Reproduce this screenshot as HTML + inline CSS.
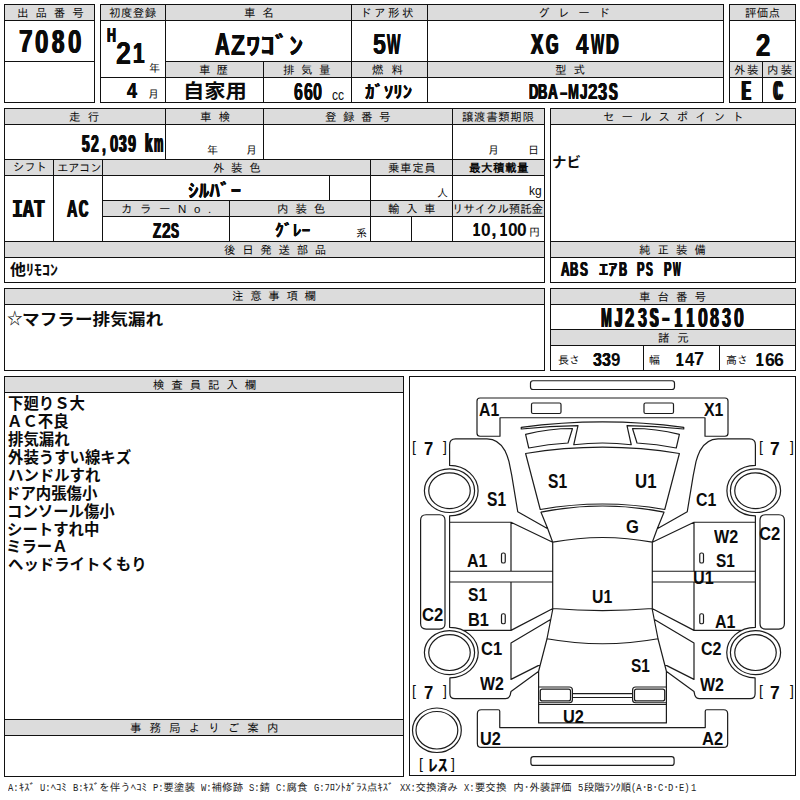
<!DOCTYPE html>
<html lang="ja"><head><meta charset="utf-8"><title>出品票</title>
<style>
html,body{margin:0;padding:0;background:#fff}
#p{position:relative;width:800px;height:800px;overflow:hidden;background:#fff;color:#0b0b0b;font-family:"Liberation Sans","Noto Sans CJK JP",sans-serif}
.b{position:absolute;box-sizing:border-box;border:1px solid #111}
.l{position:absolute;background:#111}
.g{position:absolute;background:#dcdcdc}
.t{position:absolute;white-space:pre;line-height:1;transform-origin:0 0}
.w{position:absolute;left:0;top:0;width:0;height:0}
.nb{font-weight:700;font-family:"Liberation Sans","Noto Sans CJK JP",sans-serif;color:#0b0b0b}
svg{position:absolute;left:0;top:0}
.lg{top:782.6px;font:400 10.6px/1 "Liberation Mono","IPAGothic",monospace;color:#222}
</style></head><body><div id="p">
<div class="g" style="left:5px;top:5px;width:89px;height:15px"></div>
<div class="g" style="left:101px;top:5px;width:622px;height:15px"></div>
<div class="g" style="left:730px;top:5px;width:65px;height:15px"></div>
<div class="g" style="left:166px;top:62px;width:557px;height:15px"></div>
<div class="g" style="left:730px;top:62px;width:65px;height:15px"></div>
<div class="b" style="left:4px;top:4px;width:91px;height:99px"></div>
<div class="l" style="left:4px;top:20px;width:91px;height:1px"></div>
<div class="l" style="left:4px;top:61px;width:91px;height:1px"></div>
<div class="b" style="left:100px;top:4px;width:624px;height:99px"></div>
<div class="l" style="left:100px;top:20px;width:624px;height:1px"></div>
<div class="l" style="left:165px;top:4px;width:1px;height:99px"></div>
<div class="l" style="left:351px;top:4px;width:1px;height:99px"></div>
<div class="l" style="left:427px;top:4px;width:1px;height:99px"></div>
<div class="l" style="left:263px;top:61px;width:1px;height:42px"></div>
<div class="l" style="left:165px;top:61px;width:559px;height:1px"></div>
<div class="l" style="left:100px;top:77px;width:624px;height:1px"></div>
<div class="b" style="left:729px;top:4px;width:67px;height:99px"></div>
<div class="l" style="left:729px;top:20px;width:67px;height:1px"></div>
<div class="l" style="left:729px;top:61px;width:67px;height:1px"></div>
<div class="l" style="left:729px;top:77px;width:67px;height:1px"></div>
<div class="l" style="left:762px;top:61px;width:1px;height:42px"></div>
<div class="g" style="left:5px;top:109px;width:539px;height:15px"></div>
<div class="g" style="left:5px;top:160px;width:539px;height:15px"></div>
<div class="g" style="left:103px;top:201px;width:441px;height:15px"></div>
<div class="g" style="left:5px;top:242px;width:539px;height:15px"></div>
<div class="g" style="left:551px;top:109px;width:244px;height:15px"></div>
<div class="g" style="left:551px;top:242px;width:244px;height:15px"></div>
<div class="b" style="left:4px;top:108px;width:541px;height:175px"></div>
<div class="l" style="left:4px;top:124px;width:541px;height:1px"></div>
<div class="l" style="left:4px;top:159px;width:541px;height:1px"></div>
<div class="l" style="left:4px;top:175px;width:541px;height:1px"></div>
<div class="l" style="left:102px;top:200px;width:443px;height:1px"></div>
<div class="l" style="left:102px;top:216px;width:443px;height:1px"></div>
<div class="l" style="left:4px;top:241px;width:541px;height:1px"></div>
<div class="l" style="left:4px;top:257px;width:541px;height:1px"></div>
<div class="l" style="left:165px;top:108px;width:1px;height:52px"></div>
<div class="l" style="left:263px;top:108px;width:1px;height:52px"></div>
<div class="l" style="left:452px;top:108px;width:1px;height:134px"></div>
<div class="l" style="left:53px;top:159px;width:1px;height:83px"></div>
<div class="l" style="left:102px;top:159px;width:1px;height:83px"></div>
<div class="l" style="left:370px;top:159px;width:1px;height:83px"></div>
<div class="l" style="left:329px;top:175px;width:1px;height:26px"></div>
<div class="l" style="left:229px;top:200px;width:1px;height:42px"></div>
<div class="l" style="left:411px;top:216px;width:1px;height:26px"></div>
<div class="b" style="left:550px;top:108px;width:246px;height:175px"></div>
<div class="l" style="left:550px;top:124px;width:246px;height:1px"></div>
<div class="l" style="left:550px;top:241px;width:246px;height:1px"></div>
<div class="l" style="left:550px;top:257px;width:246px;height:1px"></div>
<div class="g" style="left:5px;top:289px;width:539px;height:15px"></div>
<div class="g" style="left:551px;top:289px;width:244px;height:15px"></div>
<div class="g" style="left:551px;top:330px;width:244px;height:15px"></div>
<div class="b" style="left:4px;top:288px;width:541px;height:83px"></div>
<div class="l" style="left:4px;top:304px;width:541px;height:1px"></div>
<div class="b" style="left:550px;top:288px;width:246px;height:83px"></div>
<div class="l" style="left:550px;top:304px;width:246px;height:1px"></div>
<div class="l" style="left:550px;top:329px;width:246px;height:1px"></div>
<div class="l" style="left:550px;top:345px;width:246px;height:1px"></div>
<div class="l" style="left:643px;top:345px;width:1px;height:26px"></div>
<div class="l" style="left:719px;top:345px;width:1px;height:26px"></div>
<div class="g" style="left:5px;top:377px;width:398px;height:15px"></div>
<div class="g" style="left:5px;top:720px;width:398px;height:15px"></div>
<div class="b" style="left:4px;top:376px;width:400px;height:401px"></div>
<div class="l" style="left:4px;top:392px;width:400px;height:1px"></div>
<div class="l" style="left:4px;top:719px;width:400px;height:1px"></div>
<div class="l" style="left:4px;top:735px;width:400px;height:1px"></div>
<div class="b" style="left:409px;top:376px;width:387px;height:400px"></div>
<svg width="800" height="800" viewBox="0 0 800 800" fill="none" stroke="#1c1c1c" stroke-width="1.2" stroke-linejoin="round"><path d="M 533.0,380.75 H 672.0 Q 674.5,380.75 674.5,383.25 V 387.0 Q 674.5,389.5 672.0,389.5 H 533.0 Q 530.5,389.5 530.5,387.0 V 383.25 Q 530.5,380.75 533.0,380.75 Z M 533.4,756.65 H 671.6 Q 674.1,756.65 674.1,759.15 V 762.9 Q 674.1,765.4 671.6,765.4 H 533.4 Q 530.9,765.4 530.9,762.9 V 759.15 Q 530.9,756.65 533.4,756.65 Z M 480,398 H 725 Q 728,398 728,401 V 433.25 Q 728,436.25 725,436.25 H 705 V 417.75 H 500 V 436.25 H 480 Q 477,436.25 477,433.25 V 401 Q 477,398 480,398 Z M 521.25,427.3 Q 602.5,416.3 683.75,427.3 L 683.75,429 Q 655,426 627,425.6 L 631.25,444.75 Q 602.5,441.25 573.75,444.75 L 578,425.6 Q 550,426 521.25,429 Z M 525.6,453.5 Q 602.5,440.9 679.4,453.5 L 664.75,509.5 Q 602.5,498.5 540.25,509.5 Z M 541,512.2 Q 602.5,499.8 664,512.2 L 657.25,528.7 L 652.3,542.2 Q 602.5,532.8 552.7,542.2 L 547.75,528.7 Z M 552.7,542.2 V 608.5 Q 602.5,612.7 652.3,608.5 V 542.2 M 552.9,608.5 L 547,638.75 L 538.6,671.25 V 722.9 H 666.4 V 671.25 L 658,638.75 L 652.1,608.5 M 547,638.75 Q 602.5,648.75 658,638.75 M 538.6,704.5 H 666.4 M 572.4,693.65 H 632.6 M 572.4,697.5 H 632.6 M 481.35,709.75 H 498.25 Q 499.75,709.75 499.75,711.25 V 727.6 H 705.25 V 711.25 Q 705.25,709.75 706.75,709.75 H 723.65 Q 727.65,709.75 727.65,713.75 V 743.4 Q 727.65,747.4 723.65,747.4 H 481.35 Q 477.35,747.4 477.35,743.4 V 713.75 Q 477.35,709.75 481.35,709.75 Z M 533.0,403 H 559.5 Q 561,403 561,404.5 V 412.0 Q 561,413.5 559.5,413.5 H 533.0 Q 531.5,413.5 531.5,412.0 V 404.5 Q 531.5,403 533.0,403 Z M 525.6,434.4 Q 549,428.5 572.5,428.5 L 568,443 Q 548.4,443.9 528.75,448 Z M 547.75,528.7 L 517.75,511.75 L 511.75,475.4 L 509,461.6 C 508.3,459 507,455 504.9,450.6 C 501,443.5 495,439 487,438.9 H 455.6 Q 449.6,438.9 449.6,444.9 V 465.45 A 28.5 25.25 0 0 1 449.6,515.95 V 627.35 A 28.5 25.25 0 0 1 449.9,677.85 V 693.7 Q 449.9,698.7 454.9,698.7 H 505.5 Q 509,698.7 510.2,695 L 511,691.5 L 538.75,671.25 M 449.6,522.25 H 511 L 552.7,542.2 M 511,522.25 V 571.25 M 449.6,571.25 H 552.7 M 449.6,582 H 552.7 M 511,582 V 630.35 M 463,630.35 H 511 L 552.9,608.5 M 503.1,553 H 503.65 Q 505.25,553 505.25,554.6 V 561.4 Q 505.25,563 503.65,563 H 503.1 Q 501.5,563 501.5,561.4 V 554.6 Q 501.5,553 503.1,553 Z M 503.1,613.75 H 503.65 Q 505.25,613.75 505.25,615.35 V 622.15 Q 505.25,623.75 503.65,623.75 H 503.1 Q 501.5,623.75 501.5,622.15 V 615.35 Q 501.5,613.75 503.1,613.75 Z M 550.6,619.4 L 511,643 V 679.4 L 540.7,664.4 M 538.6,687 H 569.4 Q 572.4,687 572.4,690 V 699.75 Q 572.4,702.75 569.4,702.75 H 538.6 M 542.3,689.1 H 568.5 Q 570.5,689.1 570.5,691.1 V 698.9 Q 570.5,700.9 568.5,700.9 H 542.3 Q 540.3,700.9 540.3,698.9 V 691.1 Q 540.3,689.1 542.3,689.1 Z M 426.1,514.75 H 439.5 Q 445,514.75 445,520.25 V 623.6 Q 445,629.1 439.5,629.1 H 426.1 Q 420.6,629.1 420.6,623.6 V 520.25 Q 420.6,514.75 426.1,514.75 Z M 672 403 H 645.5 Q 644 403 644 404.5 V 412.0 Q 644 413.5 645.5 413.5 H 672 Q 673.5 413.5 673.5 412 V 404.5 Q 673.5 403 672 403 Z M 679.4 434.4 Q 656 428.5 632.5 428.5 L 637 443 Q 656.6 443.9 676.25 448 Z M 657.25 528.7 L 687.25 511.75 L 693.25 475.4 L 696 461.6 C 696.7 459 698 455 700.1 450.6 C 704 443.5 710 439 718 438.9 H 749.4 Q 755.4 438.9 755.4 444.9 V 465.45 A 28.5 25.25 0 0 0 755.4 515.95 V 627.35 A 28.5 25.25 0 0 0 755.1 677.85 V 693.7 Q 755.1 698.7 750.1 698.7 H 699.5 Q 696 698.7 694.8 695 L 694 691.5 L 666.25 671.25 M 755.4 522.25 H 694 L 652.3 542.2 M 694 522.25 V 571.25 M 755.4 571.25 H 652.3 M 755.4 582 H 652.3 M 694 582 V 630.35 M 742 630.35 H 694 L 652.1 608.5 M 701.9 553 H 701.35 Q 699.75 553 699.75 554.6 V 561.4 Q 699.75 563 701.35 563 H 701.9 Q 703.5 563 703.5 561.4 V 554.6 Q 703.5 553 701.9 553 Z M 701.9 613.75 H 701.35 Q 699.75 613.75 699.75 615.35 V 622.15 Q 699.75 623.75 701.35 623.75 H 701.9 Q 703.5 623.75 703.5 622.15 V 615.35 Q 703.5 613.75 701.9 613.75 Z M 654.4 619.4 L 694 643 V 679.4 L 664.3 664.4 M 666.4 687 H 635.6 Q 632.6 687 632.6 690 V 699.75 Q 632.6 702.75 635.6 702.75 H 666.4 M 662.7 689.1 H 636.5 Q 634.5 689.1 634.5 691.1 V 698.9 Q 634.5 700.9 636.5 700.9 H 662.7 Q 664.7 700.9 664.7 698.9 V 691.1 Q 664.7 689.1 662.7 689.1 Z M 778.9 514.75 H 765.5 Q 760 514.75 760 520.25 V 623.6 Q 760 629.1 765.5 629.1 H 778.9 Q 784.4 629.1 784.4 623.6 V 520.25 Q 784.4 514.75 778.9 514.75 Z"/><ellipse cx="449.5" cy="490.7" rx="25.1" ry="21.8"/><ellipse cx="755.5" cy="490.7" rx="25.1" ry="21.8"/><ellipse cx="449.5" cy="490.7" rx="20.75" ry="17.9"/><ellipse cx="755.5" cy="490.7" rx="20.75" ry="17.9"/><ellipse cx="449.5" cy="652.6" rx="25.1" ry="22"/><ellipse cx="755.5" cy="652.6" rx="25.1" ry="22"/><ellipse cx="449.5" cy="652.6" rx="20.75" ry="17.9"/><ellipse cx="755.5" cy="652.6" rx="20.75" ry="17.9"/><ellipse cx="436.9" cy="730.25" rx="24.4" ry="22.25"/><ellipse cx="436.9" cy="730.25" rx="20.9" ry="18.75"/></svg>
<div class="w"><span class="t" style="left:19px;top:25px;font:700 32.11px/1 'Liberation Sans','Noto Sans CJK JP',sans-serif;transform:scaleX(0.762);text-shadow:0.59px 0 0 currentColor,-0.59px 0 0 currentColor">7</span><span class="t" style="left:35px;top:26px;font:700 32.96px/1 'Liberation Sans','Noto Sans CJK JP',sans-serif;transform:scaleX(0.732);text-shadow:0.73px 0 0 currentColor,-0.73px 0 0 currentColor">0</span><span class="t" style="left:52px;top:26px;font:700 32.96px/1 'Liberation Sans','Noto Sans CJK JP',sans-serif;transform:scaleX(0.671);text-shadow:1.02px 0 0 currentColor,-1.02px 0 0 currentColor">8</span><span class="t" style="left:68px;top:26px;font:700 32.96px/1 'Liberation Sans','Noto Sans CJK JP',sans-serif;transform:scaleX(0.732);text-shadow:0.73px 0 0 currentColor,-0.73px 0 0 currentColor">0</span></div>
<div class="w"><span class="t" style="left:107px;top:25px;font:700 20.80px/1 'Liberation Sans','Noto Sans CJK JP',sans-serif;transform:scaleX(0.594);text-shadow:0.72px 0 0 currentColor,-0.72px 0 0 currentColor">H</span><span class="t" style="left:116px;top:38px;font:700 30.99px/1 'Liberation Sans','Noto Sans CJK JP',sans-serif;transform:scaleX(0.868);text-shadow:0.13px 0 0 currentColor,-0.13px 0 0 currentColor">2</span><span class="t" style="left:133px;top:38px;font:700 30.15px/1 'Liberation Sans','Noto Sans CJK JP',sans-serif;transform:scaleX(0.687);text-shadow:0.75px 0 0 currentColor,-0.75px 0 0 currentColor">1</span></div>
<div class="w"><span class="t" style="left:127px;top:79px;font:700 22.93px/1 'Liberation Sans','Noto Sans CJK JP',sans-serif;transform:scaleX(0.782);text-shadow:0.21px 0 0 currentColor,-0.21px 0 0 currentColor">4</span></div>
<div class="w"><span class="t" style="left:215px;top:29px;font:700 31.32px/1 'Liberation Sans','Noto Sans CJK JP',sans-serif;transform:scaleX(0.649);text-shadow:0.96px 0 0 currentColor,-0.96px 0 0 currentColor">A</span><span class="t" style="left:231px;top:30px;font:700 29.98px/1 'Liberation Sans','Noto Sans CJK JP',sans-serif;transform:scaleX(0.767);text-shadow:0.43px 0 0 currentColor,-0.43px 0 0 currentColor">Z</span><span class="t" style="left:246px;top:34px;font:700 23.82px/1 'Liberation Sans','Noto Sans CJK JP',sans-serif;transform:scaleX(1.204);text-shadow:0.08px 0 0 currentColor,-0.08px 0 0 currentColor">ﾜｺﾞﾝ</span></div>
<div class="w"><span class="t" style="left:373px;top:29px;font:700 30.19px/1 'Liberation Sans','Noto Sans CJK JP',sans-serif;transform:scaleX(0.769);text-shadow:0.43px 0 0 currentColor,-0.43px 0 0 currentColor">5</span><span class="t" style="left:387px;top:29px;font:700 29.42px/1 'Liberation Sans','Noto Sans CJK JP',sans-serif;transform:scaleX(0.484);text-shadow:0.72px 0 0 currentColor,-0.72px 0 0 currentColor">W</span></div>
<div class="w"><span class="t" style="left:531px;top:29px;font:700 29.42px/1 'Liberation Sans','Noto Sans CJK JP',sans-serif;transform:scaleX(0.624);text-shadow:1.02px 0 0 currentColor,-1.02px 0 0 currentColor">X</span><span class="t" style="left:546px;top:30px;font:700 28.93px/1 'Liberation Sans','Noto Sans CJK JP',sans-serif;transform:scaleX(0.551);text-shadow:1.42px 0 0 currentColor,-1.42px 0 0 currentColor">G</span> <span class="t" style="left:576px;top:29px;font:700 29.42px/1 'Liberation Sans','Noto Sans CJK JP',sans-serif;transform:scaleX(0.763);text-shadow:0.44px 0 0 currentColor,-0.44px 0 0 currentColor">4</span><span class="t" style="left:591px;top:29px;font:700 29.42px/1 'Liberation Sans','Noto Sans CJK JP',sans-serif;transform:scaleX(0.476);text-shadow:0.78px 0 0 currentColor,-0.78px 0 0 currentColor">W</span><span class="t" style="left:606px;top:29px;font:700 29.42px/1 'Liberation Sans','Noto Sans CJK JP',sans-serif;transform:scaleX(0.597);text-shadow:1.16px 0 0 currentColor,-1.16px 0 0 currentColor">D</span></div>
<div class="w"><span class="t" style="left:756px;top:30px;font:700 31.76px/1 'Liberation Sans','Noto Sans CJK JP',sans-serif;transform:scaleX(0.809);text-shadow:0.51px 0 0 currentColor,-0.51px 0 0 currentColor">2</span></div>
<div class="t" style="left:183px;top:82px;font:700 19.22px/1 'Liberation Sans','Noto Sans CJK JP',sans-serif;transform:scaleX(1.108)">自家用</div>
<div class="w"><span class="t" style="left:294px;top:81px;font:700 23.53px/1 'Liberation Sans','Noto Sans CJK JP',sans-serif;transform:scaleX(0.679);text-shadow:0.50px 0 0 currentColor,-0.50px 0 0 currentColor">6</span><span class="t" style="left:304px;top:81px;font:700 23.53px/1 'Liberation Sans','Noto Sans CJK JP',sans-serif;transform:scaleX(0.679);text-shadow:0.50px 0 0 currentColor,-0.50px 0 0 currentColor">6</span><span class="t" style="left:313px;top:81px;font:700 23.53px/1 'Liberation Sans','Noto Sans CJK JP',sans-serif;transform:scaleX(0.689);text-shadow:0.44px 0 0 currentColor,-0.44px 0 0 currentColor">0</span></div>
<div class="t" style="left:365px;top:84px;font:700 17.03px/1 'Liberation Sans','Noto Sans CJK JP',sans-serif;transform:scaleX(1.109);text-shadow:0.14px 0 0 currentColor,-0.14px 0 0 currentColor">ｶﾞｿﾘﾝ</div>
<div class="w"><span class="t" style="left:529px;top:81px;font:700 22.45px/1 'Liberation Sans','Noto Sans CJK JP',sans-serif;transform:scaleX(0.574);text-shadow:0.99px 0 0 currentColor,-0.99px 0 0 currentColor">D</span><span class="t" style="left:538px;top:81px;font:700 22.45px/1 'Liberation Sans','Noto Sans CJK JP',sans-serif;transform:scaleX(0.574);text-shadow:0.99px 0 0 currentColor,-0.99px 0 0 currentColor">B</span><span class="t" style="left:548px;top:81px;font:700 21.80px/1 'Liberation Sans','Noto Sans CJK JP',sans-serif;transform:scaleX(0.621);text-shadow:0.77px 0 0 currentColor,-0.77px 0 0 currentColor">A</span><span class="t" style="left:559px;top:80px;font:700 22.90px/1 'Liberation Sans','Noto Sans CJK JP',sans-serif;transform:scaleX(1.222)">-</span><span class="t" style="left:568px;top:81px;font:700 22.45px/1 'Liberation Sans','Noto Sans CJK JP',sans-serif;transform:scaleX(0.584);text-shadow:0.37px 0 0 currentColor,-0.37px 0 0 currentColor">M</span><span class="t" style="left:580px;top:80px;font:700 22.87px/1 'Liberation Sans','Noto Sans CJK JP',sans-serif;transform:scaleX(0.584);text-shadow:0.96px 0 0 currentColor,-0.96px 0 0 currentColor">J</span><span class="t" style="left:588px;top:80px;font:700 22.87px/1 'Liberation Sans','Noto Sans CJK JP',sans-serif;transform:scaleX(0.752);text-shadow:0.37px 0 0 currentColor,-0.37px 0 0 currentColor">2</span><span class="t" style="left:598px;top:81px;font:700 23.53px/1 'Liberation Sans','Noto Sans CJK JP',sans-serif;transform:scaleX(0.700);text-shadow:0.54px 0 0 currentColor,-0.54px 0 0 currentColor">3</span><span class="t" style="left:609px;top:81px;font:700 23.53px/1 'Liberation Sans','Noto Sans CJK JP',sans-serif;transform:scaleX(0.547);text-shadow:1.17px 0 0 currentColor,-1.17px 0 0 currentColor">S</span></div>
<div class="w"><span class="t" style="left:742px;top:78px;font:700 26.81px/1 'Liberation Sans','Noto Sans CJK JP',sans-serif;transform:scaleX(0.478);text-shadow:2.79px 0 0 currentColor,-2.79px 0 0 currentColor">E</span></div>
<div class="w"><span class="t" style="left:774px;top:77px;font:700 27.46px/1 'Liberation Sans','Noto Sans CJK JP',sans-serif;transform:scaleX(0.412);text-shadow:3.64px 0 0 currentColor,-3.64px 0 0 currentColor">C</span></div>
<div class="w"><span class="t" style="left:82px;top:132px;font:700 24.15px/1 'Liberation Sans','Noto Sans CJK JP',sans-serif;transform:scaleX(0.562);text-shadow:1.13px 0 0 currentColor,-1.13px 0 0 currentColor">5</span><span class="t" style="left:91px;top:132px;font:700 24.15px/1 'Liberation Sans','Noto Sans CJK JP',sans-serif;transform:scaleX(0.578);text-shadow:1.05px 0 0 currentColor,-1.05px 0 0 currentColor">2</span><span class="t" style="left:102px;top:132px;font:700 24.15px/1 'Liberation Sans','Noto Sans CJK JP',sans-serif;transform:scaleX(0.578);text-shadow:0.68px 0 0 currentColor,-0.68px 0 0 currentColor">,</span><span class="t" style="left:110px;top:132px;font:700 24.15px/1 'Liberation Sans','Noto Sans CJK JP',sans-serif;transform:scaleX(0.613);text-shadow:0.88px 0 0 currentColor,-0.88px 0 0 currentColor">0</span><span class="t" style="left:119px;top:132px;font:700 24.15px/1 'Liberation Sans','Noto Sans CJK JP',sans-serif;transform:scaleX(0.562);text-shadow:1.13px 0 0 currentColor,-1.13px 0 0 currentColor">3</span><span class="t" style="left:128px;top:132px;font:700 24.15px/1 'Liberation Sans','Noto Sans CJK JP',sans-serif;transform:scaleX(0.595);text-shadow:0.97px 0 0 currentColor,-0.97px 0 0 currentColor">9</span> <span class="t" style="left:145px;top:131px;font:700 25.75px/1 'Liberation Sans','Noto Sans CJK JP',sans-serif;transform:scaleX(0.524);text-shadow:1.43px 0 0 currentColor,-1.43px 0 0 currentColor">k</span><span class="t" style="left:154px;top:131px;font:700 25.75px/1 'Liberation Sans','Noto Sans CJK JP',sans-serif;transform:scaleX(0.407);text-shadow:1.27px 0 0 currentColor,-1.27px 0 0 currentColor">m</span></div>
<div class="t" style="left:12px;top:198px;font:700 25.61px/1 'Liberation Mono',monospace;transform:scaleX(0.711);text-shadow:0.81px 0 0 currentColor,-0.81px 0 0 currentColor">IAT</div>
<div class="w"><span class="t" style="left:67px;top:197px;font:700 24.49px/1 'Liberation Sans','Noto Sans CJK JP',sans-serif;transform:scaleX(0.588);text-shadow:1.01px 0 0 currentColor,-1.01px 0 0 currentColor">A</span><span class="t" style="left:79px;top:197px;font:700 24.49px/1 'Liberation Sans','Noto Sans CJK JP',sans-serif;transform:scaleX(0.522);text-shadow:1.37px 0 0 currentColor,-1.37px 0 0 currentColor">C</span></div>
<div class="t" style="left:188px;top:182px;font:700 18.24px/1 'Liberation Sans','Noto Sans CJK JP',sans-serif;transform:scaleX(1.167);text-shadow:0.09px 0 0 currentColor,-0.09px 0 0 currentColor">ｼﾙﾊﾞｰ</div>
<div class="w"><span class="t" style="left:153px;top:220px;font:700 21.16px/1 'Liberation Sans','Noto Sans CJK JP',sans-serif;transform:scaleX(0.632);text-shadow:0.70px 0 0 currentColor,-0.70px 0 0 currentColor">Z</span><span class="t" style="left:162px;top:220px;font:700 21.16px/1 'Liberation Sans','Noto Sans CJK JP',sans-serif;transform:scaleX(0.741);text-shadow:0.37px 0 0 currentColor,-0.37px 0 0 currentColor">2</span><span class="t" style="left:171px;top:220px;font:700 21.16px/1 'Liberation Sans','Noto Sans CJK JP',sans-serif;transform:scaleX(0.563);text-shadow:0.98px 0 0 currentColor,-0.98px 0 0 currentColor">S</span></div>
<div class="t" style="left:275px;top:223px;font:700 15.91px/1 'Liberation Sans','Noto Sans CJK JP',sans-serif;transform:scaleX(1.113);text-shadow:0.13px 0 0 currentColor,-0.13px 0 0 currentColor">ｸﾞﾚｰ</div>
<div class="w"><span class="t" style="left:473px;top:221px;font:700 18.31px/1 'Liberation Sans','Noto Sans CJK JP',sans-serif;transform:scaleX(0.686);text-shadow:0.46px 0 0 currentColor,-0.46px 0 0 currentColor">1</span><span class="t" style="left:481px;top:221px;font:700 18.31px/1 'Liberation Sans','Noto Sans CJK JP',sans-serif;transform:scaleX(0.945)">0</span><span class="t" style="left:491px;top:221px;font:700 18.31px/1 'Liberation Sans','Noto Sans CJK JP',sans-serif;transform:scaleX(1.142)">,</span><span class="t" style="left:500px;top:221px;font:700 18.31px/1 'Liberation Sans','Noto Sans CJK JP',sans-serif;transform:scaleX(0.686);text-shadow:0.46px 0 0 currentColor,-0.46px 0 0 currentColor">1</span><span class="t" style="left:508px;top:221px;font:700 18.31px/1 'Liberation Sans','Noto Sans CJK JP',sans-serif;transform:scaleX(0.945)">0</span><span class="t" style="left:517px;top:221px;font:700 18.31px/1 'Liberation Sans','Noto Sans CJK JP',sans-serif;transform:scaleX(0.945)">0</span></div>
<div class="t" style="left:10px;top:262px;font:700 15.02px/1 'Liberation Sans','Noto Sans CJK JP',sans-serif;transform:scaleX(1.064)">他ﾘﾓｺﾝ</div>
<div class="t" style="left:552px;top:155px;font:700 14.13px/1 'Liberation Sans','Noto Sans CJK JP',sans-serif;transform:scaleX(1.023)">ナビ</div>
<div class="w"><span class="t" style="left:561px;top:259px;font:700 20.29px/1 'Liberation Sans','Noto Sans CJK JP',sans-serif;transform:scaleX(0.587);text-shadow:0.84px 0 0 currentColor,-0.84px 0 0 currentColor">A</span><span class="t" style="left:570px;top:259px;font:700 20.29px/1 'Liberation Sans','Noto Sans CJK JP',sans-serif;transform:scaleX(0.566);text-shadow:0.93px 0 0 currentColor,-0.93px 0 0 currentColor">B</span><span class="t" style="left:580px;top:259px;font:700 20.29px/1 'Liberation Sans','Noto Sans CJK JP',sans-serif;transform:scaleX(0.578);text-shadow:0.88px 0 0 currentColor,-0.88px 0 0 currentColor">S</span> <span class="t" style="left:599px;top:262px;font:700 16.01px/1 'Liberation Sans','Noto Sans CJK JP',sans-serif;transform:scaleX(1.142);text-shadow:0.11px 0 0 currentColor,-0.11px 0 0 currentColor">ｴｱ</span><span class="t" style="left:619px;top:259px;font:700 20.29px/1 'Liberation Sans','Noto Sans CJK JP',sans-serif;transform:scaleX(0.553);text-shadow:0.99px 0 0 currentColor,-0.99px 0 0 currentColor">B</span> <span class="t" style="left:637px;top:259px;font:700 20.29px/1 'Liberation Sans','Noto Sans CJK JP',sans-serif;transform:scaleX(0.547);text-shadow:1.01px 0 0 currentColor,-1.01px 0 0 currentColor">P</span><span class="t" style="left:646px;top:259px;font:700 20.29px/1 'Liberation Sans','Noto Sans CJK JP',sans-serif;transform:scaleX(0.499);text-shadow:1.25px 0 0 currentColor,-1.25px 0 0 currentColor">S</span> <span class="t" style="left:664px;top:259px;font:700 20.29px/1 'Liberation Sans','Noto Sans CJK JP',sans-serif;transform:scaleX(0.547);text-shadow:1.01px 0 0 currentColor,-1.01px 0 0 currentColor">P</span><span class="t" style="left:673px;top:259px;font:700 20.29px/1 'Liberation Sans','Noto Sans CJK JP',sans-serif;transform:scaleX(0.401);text-shadow:0.91px 0 0 currentColor,-0.91px 0 0 currentColor">W</span></div>
<div class="w"><span class="t" style="left:601px;top:305px;font:700 26.81px/1 'Liberation Sans','Noto Sans CJK JP',sans-serif;transform:scaleX(0.482);text-shadow:0.95px 0 0 currentColor,-0.95px 0 0 currentColor">M</span><span class="t" style="left:615px;top:305px;font:700 26.81px/1 'Liberation Sans','Noto Sans CJK JP',sans-serif;transform:scaleX(0.474);text-shadow:1.85px 0 0 currentColor,-1.85px 0 0 currentColor">J</span><span class="t" style="left:625px;top:305px;font:700 26.81px/1 'Liberation Sans','Noto Sans CJK JP',sans-serif;transform:scaleX(0.622);text-shadow:0.94px 0 0 currentColor,-0.94px 0 0 currentColor">2</span><span class="t" style="left:638px;top:305px;font:700 26.81px/1 'Liberation Sans','Noto Sans CJK JP',sans-serif;transform:scaleX(0.604);text-shadow:1.02px 0 0 currentColor,-1.02px 0 0 currentColor">3</span><span class="t" style="left:650px;top:305px;font:700 26.81px/1 'Liberation Sans','Noto Sans CJK JP',sans-serif;transform:scaleX(0.473);text-shadow:1.86px 0 0 currentColor,-1.86px 0 0 currentColor">S</span><span class="t" style="left:661px;top:305px;font:700 26.81px/1 'Liberation Sans','Noto Sans CJK JP',sans-serif;transform:scaleX(1.082)">-</span><span class="t" style="left:675px;top:305px;font:700 26.81px/1 'Liberation Sans','Noto Sans CJK JP',sans-serif;transform:scaleX(0.454);text-shadow:2.02px 0 0 currentColor,-2.02px 0 0 currentColor">1</span><span class="t" style="left:687px;top:305px;font:700 26.81px/1 'Liberation Sans','Noto Sans CJK JP',sans-serif;transform:scaleX(0.454);text-shadow:2.02px 0 0 currentColor,-2.02px 0 0 currentColor">1</span><span class="t" style="left:698px;top:305px;font:700 26.81px/1 'Liberation Sans','Noto Sans CJK JP',sans-serif;transform:scaleX(0.660);text-shadow:0.77px 0 0 currentColor,-0.77px 0 0 currentColor">0</span><span class="t" style="left:710px;top:305px;font:700 26.81px/1 'Liberation Sans','Noto Sans CJK JP',sans-serif;transform:scaleX(0.604);text-shadow:1.02px 0 0 currentColor,-1.02px 0 0 currentColor">8</span><span class="t" style="left:722px;top:305px;font:700 26.81px/1 'Liberation Sans','Noto Sans CJK JP',sans-serif;transform:scaleX(0.604);text-shadow:1.02px 0 0 currentColor,-1.02px 0 0 currentColor">3</span><span class="t" style="left:734px;top:305px;font:700 26.81px/1 'Liberation Sans','Noto Sans CJK JP',sans-serif;transform:scaleX(0.660);text-shadow:0.77px 0 0 currentColor,-0.77px 0 0 currentColor">0</span></div>
<div class="w"><span class="t" style="left:593px;top:351px;font:700 18.45px/1 'Liberation Sans','Noto Sans CJK JP',sans-serif;transform:scaleX(0.868);text-shadow:0.08px 0 0 currentColor,-0.08px 0 0 currentColor">3</span><span class="t" style="left:602px;top:351px;font:700 18.45px/1 'Liberation Sans','Noto Sans CJK JP',sans-serif;transform:scaleX(0.868);text-shadow:0.08px 0 0 currentColor,-0.08px 0 0 currentColor">3</span><span class="t" style="left:611px;top:351px;font:700 18.45px/1 'Liberation Sans','Noto Sans CJK JP',sans-serif;transform:scaleX(0.919)">9</span></div>
<div class="w"><span class="t" style="left:676px;top:351px;font:700 18.45px/1 'Liberation Sans','Noto Sans CJK JP',sans-serif;transform:scaleX(0.729);text-shadow:0.35px 0 0 currentColor,-0.35px 0 0 currentColor">1</span><span class="t" style="left:685px;top:351px;font:700 18.45px/1 'Liberation Sans','Noto Sans CJK JP',sans-serif;transform:scaleX(0.902)">4</span><span class="t" style="left:694px;top:350px;font:700 18.45px/1 'Liberation Sans','Noto Sans CJK JP',sans-serif;transform:scaleX(0.983)">7</span></div>
<div class="w"><span class="t" style="left:756px;top:351px;font:700 18.45px/1 'Liberation Sans','Noto Sans CJK JP',sans-serif;transform:scaleX(0.729);text-shadow:0.35px 0 0 currentColor,-0.35px 0 0 currentColor">1</span><span class="t" style="left:765px;top:351px;font:700 18.45px/1 'Liberation Sans','Noto Sans CJK JP',sans-serif;transform:scaleX(0.962)">6</span><span class="t" style="left:774px;top:351px;font:700 18.45px/1 'Liberation Sans','Noto Sans CJK JP',sans-serif;transform:scaleX(0.962)">6</span></div>
<div class="w"><span class="t" style="left:7px;top:311px;font:400 15.50px/1 'Liberation Sans','Noto Sans CJK JP',sans-serif">☆</span><span class="t" style="left:22px;top:312px;font:700 15.98px/1 'Liberation Sans','Noto Sans CJK JP',sans-serif;transform:scaleX(1.104)">マフラー排気漏れ</span></div>
<div class="t" style="left:149px;top:63px;font:400 11.00px/1 'Liberation Sans','IPAGothic',sans-serif">年</div>
<div class="t" style="left:148px;top:89px;font:400 11.00px/1 'Liberation Sans','IPAGothic',sans-serif">月</div>
<div class="t" style="left:332px;top:87px;font:400 15.45px/1 'Liberation Sans','Noto Sans CJK JP',sans-serif;transform:scaleX(0.783)">cc</div>
<div class="t" style="left:207px;top:145px;font:400 11.00px/1 'Liberation Sans','IPAGothic',sans-serif">年</div>
<div class="t" style="left:246px;top:145px;font:400 11.00px/1 'Liberation Sans','IPAGothic',sans-serif">月</div>
<div class="t" style="left:488px;top:145px;font:400 11.00px/1 'Liberation Sans','IPAGothic',sans-serif">月</div>
<div class="t" style="left:528px;top:145px;font:400 11.00px/1 'Liberation Sans','IPAGothic',sans-serif">日</div>
<div class="t" style="left:437px;top:188px;font:400 11.00px/1 'Liberation Sans','IPAGothic',sans-serif">人</div>
<div class="t" style="left:529px;top:185px;font:400 12.00px/1 'Liberation Sans','Noto Sans CJK JP',sans-serif">kg</div>
<div class="t" style="left:356px;top:228px;font:400 11.00px/1 'Liberation Sans','IPAGothic',sans-serif">系</div>
<div class="t" style="left:529px;top:227px;font:400 11.00px/1 'Liberation Sans','IPAGothic',sans-serif">円</div>
<div class="t" style="left:558px;top:355px;font:400 11.00px/1 'Liberation Sans','IPAGothic',sans-serif">長さ</div>
<div class="t" style="left:649px;top:355px;font:400 11.00px/1 'Liberation Sans','IPAGothic',sans-serif">幅</div>
<div class="t" style="left:726px;top:355px;font:400 11.00px/1 'Liberation Sans','IPAGothic',sans-serif">高さ</div>
<div class="t" style="left:17px;top:8px;font:400 11.50px/1 'Liberation Sans','IPAGothic',sans-serif;letter-spacing:6.89px">出品番号</div>
<div class="t" style="left:109px;top:8px;font:400 11.50px/1 'Liberation Sans','IPAGothic',sans-serif;letter-spacing:0.43px">初度登録</div>
<div class="t" style="left:244px;top:8px;font:400 11.50px/1 'Liberation Sans','IPAGothic',sans-serif;letter-spacing:6.68px">車名</div>
<div class="t" style="left:360px;top:8px;font:400 11.50px/1 'Liberation Sans','IPAGothic',sans-serif;letter-spacing:2.49px">ドア形状</div>
<div class="t" style="left:538px;top:8px;font:400 11.50px/1 'Liberation Sans','IPAGothic',sans-serif;letter-spacing:8.62px">グレード</div>
<div class="t" style="left:745px;top:8px;font:400 11.50px/1 'Liberation Sans','IPAGothic',sans-serif;letter-spacing:0.31px">評価点</div>
<div class="t" style="left:199px;top:65px;font:400 11.50px/1 'Liberation Sans','IPAGothic',sans-serif;letter-spacing:5.88px">車歴</div>
<div class="t" style="left:283px;top:65px;font:400 11.50px/1 'Liberation Sans','IPAGothic',sans-serif;letter-spacing:6.51px">排気量</div>
<div class="t" style="left:372px;top:65px;font:400 11.50px/1 'Liberation Sans','IPAGothic',sans-serif;letter-spacing:8.04px">燃料</div>
<div class="t" style="left:555px;top:65px;font:400 11.50px/1 'Liberation Sans','IPAGothic',sans-serif;letter-spacing:7.02px">型式</div>
<div class="t" style="left:734px;top:65px;font:400 11.50px/1 'Liberation Sans','IPAGothic',sans-serif;letter-spacing:1.38px">外装</div>
<div class="t" style="left:767px;top:65px;font:400 11.50px/1 'Liberation Sans','IPAGothic',sans-serif;letter-spacing:2.32px">内装</div>
<div class="t" style="left:69px;top:112px;font:400 11.50px/1 'Liberation Sans','IPAGothic',sans-serif;letter-spacing:7.13px">走行</div>
<div class="t" style="left:200px;top:112px;font:400 11.50px/1 'Liberation Sans','IPAGothic',sans-serif;letter-spacing:7.27px">車検</div>
<div class="t" style="left:325px;top:112px;font:400 11.50px/1 'Liberation Sans','IPAGothic',sans-serif;letter-spacing:6.50px">登録番号</div>
<div class="t" style="left:462px;top:112px;font:400 11.50px/1 'Liberation Sans','IPAGothic',sans-serif;letter-spacing:0.58px">譲渡書類期限</div>
<div class="t" style="left:13px;top:162px;font:400 11.50px/1 'Liberation Sans','IPAGothic',sans-serif;letter-spacing:-0.22px">シフト</div>
<div class="t" style="left:57px;top:163px;font:400 11.50px/1 'Liberation Sans','IPAGothic',sans-serif;letter-spacing:-0.45px">エアコン</div>
<div class="t" style="left:213px;top:163px;font:400 11.50px/1 'Liberation Sans','IPAGothic',sans-serif;letter-spacing:6.57px">外装色</div>
<div class="t" style="left:388px;top:163px;font:400 11.50px/1 'Liberation Sans','IPAGothic',sans-serif;letter-spacing:0.62px">乗車定員</div>
<div class="t" style="left:469px;top:163px;font:700 11.50px/1 'Liberation Sans','IPAGothic',sans-serif;letter-spacing:0.48px">最大積載量</div>
<div class="t" style="left:121px;top:204px;font:400 11.50px/1 'Liberation Sans','IPAGothic',sans-serif;letter-spacing:7.54px">カラーNo.</div>
<div class="t" style="left:277px;top:204px;font:400 11.50px/1 'Liberation Sans','IPAGothic',sans-serif;letter-spacing:6.91px">内装色</div>
<div class="t" style="left:388px;top:204px;font:400 11.50px/1 'Liberation Sans','IPAGothic',sans-serif;letter-spacing:6.51px">輸入車</div>
<div class="t" style="left:452px;top:204px;font:400 11.50px/1 'Liberation Sans','IPAGothic',sans-serif;letter-spacing:-0.13px">リサイクル預託金</div>
<div class="t" style="left:224px;top:245px;font:400 11.50px/1 'Liberation Sans','IPAGothic',sans-serif;letter-spacing:6.67px">後日発送部品</div>
<div class="t" style="left:603px;top:112px;font:400 11.50px/1 'Liberation Sans','IPAGothic',sans-serif;letter-spacing:6.96px">セールスポイント</div>
<div class="t" style="left:639px;top:245px;font:400 11.50px/1 'Liberation Sans','IPAGothic',sans-serif;letter-spacing:6.97px">純正装備</div>
<div class="t" style="left:639px;top:292px;font:400 11.50px/1 'Liberation Sans','IPAGothic',sans-serif;letter-spacing:7.04px">車台番号</div>
<div class="t" style="left:658px;top:333px;font:400 11.50px/1 'Liberation Sans','IPAGothic',sans-serif;letter-spacing:7.66px">諸元</div>
<div class="t" style="left:232px;top:291px;font:400 11.50px/1 'Liberation Sans','IPAGothic',sans-serif;letter-spacing:6.65px">注意事項欄</div>
<div class="t" style="left:153px;top:380px;font:400 11.50px/1 'Liberation Sans','IPAGothic',sans-serif;letter-spacing:6.83px">検査員記入欄</div>
<div class="t" style="left:130px;top:723px;font:400 11.50px/1 'Liberation Sans','IPAGothic',sans-serif;letter-spacing:8.06px">事務局よりご案内</div>
<div class="t" style="left:479px;top:401px;font:700 18.12px/1 'Liberation Sans','Noto Sans CJK JP',sans-serif;transform:scaleX(0.871)">A1</div>
<div class="t" style="left:704px;top:401px;font:700 18.12px/1 'Liberation Sans','Noto Sans CJK JP',sans-serif;transform:scaleX(0.877)">X1</div>
<div class="t" style="left:487px;top:490px;font:700 19.37px/1 'Liberation Sans','Noto Sans CJK JP',sans-serif;transform:scaleX(0.805)">S1</div>
<div class="t" style="left:548px;top:472px;font:700 19.37px/1 'Liberation Sans','Noto Sans CJK JP',sans-serif;transform:scaleX(0.805)">S1</div>
<div class="t" style="left:635px;top:472px;font:700 19.64px/1 'Liberation Sans','Noto Sans CJK JP',sans-serif;transform:scaleX(0.856)">U1</div>
<div class="t" style="left:696px;top:491px;font:700 18.66px/1 'Liberation Sans','Noto Sans CJK JP',sans-serif;transform:scaleX(0.852)">C1</div>
<div class="t" style="left:626px;top:519px;font:700 17.61px/1 'Liberation Sans','Noto Sans CJK JP',sans-serif;transform:scaleX(0.940)">G</div>
<div class="t" style="left:714px;top:529px;font:700 17.86px/1 'Liberation Sans','Noto Sans CJK JP',sans-serif;transform:scaleX(0.901)">W2</div>
<div class="t" style="left:759px;top:526px;font:700 17.61px/1 'Liberation Sans','Noto Sans CJK JP',sans-serif;transform:scaleX(0.947)">C2</div>
<div class="t" style="left:716px;top:552px;font:700 18.31px/1 'Liberation Sans','Noto Sans CJK JP',sans-serif;transform:scaleX(0.840)">S1</div>
<div class="t" style="left:467px;top:552px;font:700 18.12px/1 'Liberation Sans','Noto Sans CJK JP',sans-serif;transform:scaleX(0.882)">A1</div>
<div class="t" style="left:468px;top:587px;font:700 17.61px/1 'Liberation Sans','Noto Sans CJK JP',sans-serif;transform:scaleX(0.886)">S1</div>
<div class="t" style="left:422px;top:607px;font:700 17.61px/1 'Liberation Sans','Noto Sans CJK JP',sans-serif;transform:scaleX(0.947)">C2</div>
<div class="t" style="left:468px;top:611px;font:700 18.12px/1 'Liberation Sans','Noto Sans CJK JP',sans-serif;transform:scaleX(0.901)">B1</div>
<div class="t" style="left:481px;top:640px;font:700 18.31px/1 'Liberation Sans','Noto Sans CJK JP',sans-serif;transform:scaleX(0.903)">C1</div>
<div class="t" style="left:480px;top:675px;font:700 18.57px/1 'Liberation Sans','Noto Sans CJK JP',sans-serif;transform:scaleX(0.857)">W2</div>
<div class="t" style="left:693px;top:570px;font:700 17.86px/1 'Liberation Sans','Noto Sans CJK JP',sans-serif;transform:scaleX(0.906)">U1</div>
<div class="t" style="left:592px;top:589px;font:700 17.86px/1 'Liberation Sans','Noto Sans CJK JP',sans-serif;transform:scaleX(0.882)">U1</div>
<div class="t" style="left:715px;top:613px;font:700 18.12px/1 'Liberation Sans','Noto Sans CJK JP',sans-serif;transform:scaleX(0.882)">A1</div>
<div class="t" style="left:701px;top:641px;font:700 17.61px/1 'Liberation Sans','Noto Sans CJK JP',sans-serif;transform:scaleX(0.911)">C2</div>
<div class="t" style="left:631px;top:657px;font:700 18.66px/1 'Liberation Sans','Noto Sans CJK JP',sans-serif;transform:scaleX(0.824)">S1</div>
<div class="t" style="left:700px;top:677px;font:700 17.86px/1 'Liberation Sans','Noto Sans CJK JP',sans-serif;transform:scaleX(0.892)">W2</div>
<div class="t" style="left:563px;top:709px;font:700 17.61px/1 'Liberation Sans','Noto Sans CJK JP',sans-serif;transform:scaleX(0.927)">U2</div>
<div class="t" style="left:480px;top:730px;font:700 18.31px/1 'Liberation Sans','Noto Sans CJK JP',sans-serif;transform:scaleX(0.891)">U2</div>
<div class="t" style="left:702px;top:730px;font:700 18.57px/1 'Liberation Sans','Noto Sans CJK JP',sans-serif;transform:scaleX(0.890)">A2</div>
<div class="w"><span class="t" style="left:412px;top:440px;font:400 14.00px/1 'Liberation Sans','Noto Sans CJK JP',sans-serif">[</span> <span class="t" style="left:424px;top:440px;font:700 18.38px/1 'Liberation Sans','Noto Sans CJK JP',sans-serif;transform:scaleX(0.903)">7</span> <span class="t" style="left:443px;top:440px;font:400 14.00px/1 'Liberation Sans','Noto Sans CJK JP',sans-serif">]</span></div>
<div class="w"><span class="t" style="left:759px;top:440px;font:400 14.00px/1 'Liberation Sans','Noto Sans CJK JP',sans-serif">[</span> <span class="t" style="left:770px;top:440px;font:700 18.82px/1 'Liberation Sans','Noto Sans CJK JP',sans-serif;transform:scaleX(0.927)">7</span> <span class="t" style="left:790px;top:440px;font:400 14.00px/1 'Liberation Sans','Noto Sans CJK JP',sans-serif">]</span></div>
<div class="w"><span class="t" style="left:412px;top:684px;font:400 14.00px/1 'Liberation Sans','Noto Sans CJK JP',sans-serif">[</span> <span class="t" style="left:424px;top:684px;font:700 18.38px/1 'Liberation Sans','Noto Sans CJK JP',sans-serif;transform:scaleX(0.903)">7</span> <span class="t" style="left:443px;top:684px;font:400 14.00px/1 'Liberation Sans','Noto Sans CJK JP',sans-serif">]</span></div>
<div class="w"><span class="t" style="left:759px;top:684px;font:400 14.00px/1 'Liberation Sans','Noto Sans CJK JP',sans-serif">[</span> <span class="t" style="left:770px;top:684px;font:700 18.38px/1 'Liberation Sans','Noto Sans CJK JP',sans-serif;transform:scaleX(0.949)">7</span> <span class="t" style="left:790px;top:684px;font:400 14.00px/1 'Liberation Sans','Noto Sans CJK JP',sans-serif">]</span></div>
<div class="w"><span class="t" style="left:419px;top:757px;font:400 14.00px/1 'Liberation Sans','Noto Sans CJK JP',sans-serif">[</span> <span class="t" style="left:428px;top:757px;font:700 16.46px/1 'Liberation Sans','Noto Sans CJK JP',sans-serif;transform:scaleX(1.195)">ﾚｽ</span> <span class="t" style="left:451px;top:757px;font:400 14.00px/1 'Liberation Sans','Noto Sans CJK JP',sans-serif">]</span></div>
<div class="t" style="left:8px;top:396px;font:700 15.40px/1 'Liberation Sans','Noto Sans CJK JP',sans-serif">下廻りＳ大</div>
<div class="t" style="left:7px;top:414px;font:700 15.40px/1 'Liberation Sans','Noto Sans CJK JP',sans-serif">ＡＣ不良</div>
<div class="t" style="left:8px;top:432px;font:700 15.40px/1 'Liberation Sans','Noto Sans CJK JP',sans-serif">排気漏れ</div>
<div class="t" style="left:8px;top:450px;font:700 15.40px/1 'Liberation Sans','Noto Sans CJK JP',sans-serif">外装うすい線キズ</div>
<div class="t" style="left:8px;top:468px;font:700 15.40px/1 'Liberation Sans','Noto Sans CJK JP',sans-serif">ハンドルすれ</div>
<div class="t" style="left:5px;top:486px;font:700 15.40px/1 'Liberation Sans','Noto Sans CJK JP',sans-serif">ドア内張傷小</div>
<div class="t" style="left:7px;top:504px;font:700 15.40px/1 'Liberation Sans','Noto Sans CJK JP',sans-serif">コンソール傷小</div>
<div class="t" style="left:7px;top:522px;font:700 15.40px/1 'Liberation Sans','Noto Sans CJK JP',sans-serif">シートすれ中</div>
<div class="t" style="left:6px;top:539px;font:700 15.40px/1 'Liberation Sans','Noto Sans CJK JP',sans-serif">ミラーＡ</div>
<div class="t" style="left:8px;top:557px;font:700 15.40px/1 'Liberation Sans','Noto Sans CJK JP',sans-serif">ヘッドライトくもり</div>

<div class="w"><span class="w"><span class="t lg" style="left:8.35px;transform:scaleX(0.833)">A:</span><span class="t lg" style="left:18.95px;transform:scaleX(1.000)">ｷｽﾞ</span></span> <span class="w"><span class="t lg" style="left:40.10px;transform:scaleX(0.833)">U:</span><span class="t lg" style="left:50.70px;transform:scaleX(1.000)">ﾍｺﾐ</span></span> <span class="w"><span class="t lg" style="left:72.60px;transform:scaleX(0.833)">B:</span><span class="t lg" style="left:83.20px;transform:scaleX(1.000)">ｷｽﾞを伴うﾍｺﾐ</span></span> <span class="w"><span class="t lg" style="left:152.60px;transform:scaleX(0.833)">P:</span><span class="t lg" style="left:163.20px;transform:scaleX(1.000)">要塗装</span></span> <span class="w"><span class="t lg" style="left:200.85px;transform:scaleX(0.833)">W:</span><span class="t lg" style="left:211.45px;transform:scaleX(1.000)">補修跡</span></span> <span class="w"><span class="t lg" style="left:248.85px;transform:scaleX(0.833)">S:</span><span class="t lg" style="left:259.45px;transform:scaleX(1.000)">錆</span></span> <span class="w"><span class="t lg" style="left:275.85px;transform:scaleX(0.833)">C:</span><span class="t lg" style="left:286.45px;transform:scaleX(1.000)">腐食</span></span> <span class="w"><span class="t lg" style="left:313.85px;transform:scaleX(0.833)">G:</span><span class="t lg" style="left:324.45px;transform:scaleX(1.000)">ﾌﾛﾝﾄｶﾞﾗｽ点ｷｽﾞ</span></span> <span class="w"><span class="t lg" style="left:399.60px;transform:scaleX(0.833)">XX:</span><span class="t lg" style="left:415.50px;transform:scaleX(1.000)">交換済み</span></span> <span class="w"><span class="t lg" style="left:464.10px;transform:scaleX(0.833)">X:</span><span class="t lg" style="left:474.70px;transform:scaleX(1.000)">要交換</span></span> <span class="w"><span class="t lg" style="left:513.35px;transform:scaleX(1.000)">内･外装評価</span></span> <span class="w"><span class="t lg" style="left:578.35px;transform:scaleX(0.833)">5</span><span class="t lg" style="left:583.65px;transform:scaleX(1.000)">段階ﾗﾝｸ順</span><span class="t lg" style="left:631.35px;transform:scaleX(0.833)">(A</span><span class="t lg" style="left:641.95px;transform:scaleX(1.000)">･</span><span class="t lg" style="left:647.25px;transform:scaleX(0.833)">B</span><span class="t lg" style="left:652.55px;transform:scaleX(1.000)">･</span><span class="t lg" style="left:657.85px;transform:scaleX(0.833)">C</span><span class="t lg" style="left:663.15px;transform:scaleX(1.000)">･</span><span class="t lg" style="left:668.45px;transform:scaleX(0.833)">D</span><span class="t lg" style="left:673.75px;transform:scaleX(1.000)">･</span><span class="t lg" style="left:679.05px;transform:scaleX(0.833)">E)</span></span> <span class="w"><span class="t lg" style="left:690.85px;transform:scaleX(0.833)">1</span></span> </div>
</div></body></html>
